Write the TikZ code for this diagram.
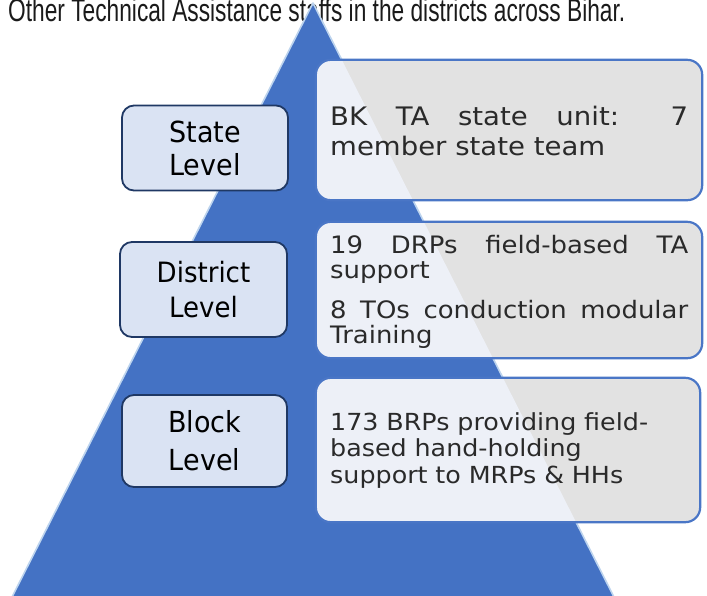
\documentclass[tikz,border=0pt]{standalone}
\usepackage{fontspec}
\setmainfont{DejaVu Sans}
\newfontfamily\lvlfont[FakeStretch=0.93]{DejaVu Sans}
\newfontfamily\infofont[FakeStretch=1.08]{DejaVu Sans}
\newfontfamily\capfont[FakeStretch=0.71]{Liberation Sans}

\definecolor{tri}{HTML}{4472C4}
\definecolor{triedge}{HTML}{BDD4EE}
\definecolor{lvlfill}{HTML}{DAE3F3}
\definecolor{lvldraw}{HTML}{1F3864}
\definecolor{infoin}{HTML}{EDF0F7}
\definecolor{infoout}{HTML}{E2E2E2}
\definecolor{infodraw}{HTML}{4A76C6}
\definecolor{infotext}{HTML}{2A2A2A}
\definecolor{captext}{HTML}{1A1A1A}

\begin{document}
\begin{tikzpicture}[x=1pt,y=-1pt,
  lvlbox/.style={draw=lvldraw, fill=lvlfill, line width=1.8pt,
    rounded corners=12pt, align=center, inner sep=0pt, text=black},
  infobox/.style={fill=infoout, rounded corners=15pt, inner sep=0pt},
  infoedge/.style={draw=infodraw, line width=2.2pt, rounded corners=15pt},
  infotxt/.style={text=infotext, inner sep=0pt, anchor=base west, text width=358pt},
]
\useasboundingbox (0,0) rectangle (707,595);

% caption line running off the top edge
\node[anchor=base west, inner sep=0pt, text=captext,
      font={\capfont\fontsize{32}{32}\selectfont}] (caption) at (8,21)
  {Other Technical Assistance staffs in the districts across Bihar.};

% pyramid
\coordinate (apex) at (313,3);
\coordinate (baseL) at (10,601);
\coordinate (baseR) at (616,601);
\fill[tri] (apex) -- (baseL) -- (baseR) -- cycle;
\draw[triedge, line width=1.6pt, line join=round] (baseL) -- (apex) -- (baseR);

% right-hand information boxes
\node[infobox, minimum width=386pt, minimum height=140pt] (stateR) at (509,130) {};
\node[infobox, minimum width=386pt, minimum height=136pt] (districtR) at (509,290) {};
\node[infobox, minimum width=384pt, minimum height=144pt] (blockR) at (508,450) {};

% lighter part of each box where it lies over the pyramid
\begin{scope}
  \clip (apex) -- (baseL) -- (baseR) -- cycle;
  \foreach \b in {stateR,districtR,blockR}
    \fill[infoin, rounded corners=15pt] (\b.north west) rectangle (\b.south east);
\end{scope}

\foreach \b in {stateR,districtR,blockR}
  \draw[infoedge] (\b.north west) rectangle (\b.south east);

% level labels
\node[lvlbox, minimum width=166pt, minimum height=85pt,
      font={\lvlfont\fontsize{29}{33}\selectfont}] (stateL) at (205,148) {State\\Level};
\node[lvlbox, minimum width=167pt, minimum height=95pt,
      font={\lvlfont\fontsize{28}{35}\selectfont}] (districtL) at (203.5,289.5) {District\\Level};
\node[lvlbox, minimum width=165pt, minimum height=92pt,
      font={\lvlfont\fontsize{29}{38}\selectfont}] (blockL) at (204.5,441) {Block\\Level};

% box texts
\node[infotxt, align=justify,
      font={\infofont\fontsize{25.5}{30}\selectfont}] (stateT) at (330,125)
  {BK TA state unit: 7\linebreak member state team};
\node[infotxt, align=justify,
      font={\infofont\fontsize{24}{25}\selectfont}] (districtT) at (330,253)
  {19 DRPs field-based TA\linebreak support\par\vspace{15pt}
   8 TOs conduction modular\linebreak Training};
\node[infotxt, align=left,
      font={\infofont\fontsize{23.5}{26.7}\selectfont}] (blockT) at (330,430)
  {173 BRPs providing field-\\based hand-holding\\support to MRPs \& HHs};
\end{tikzpicture}
\end{document}
